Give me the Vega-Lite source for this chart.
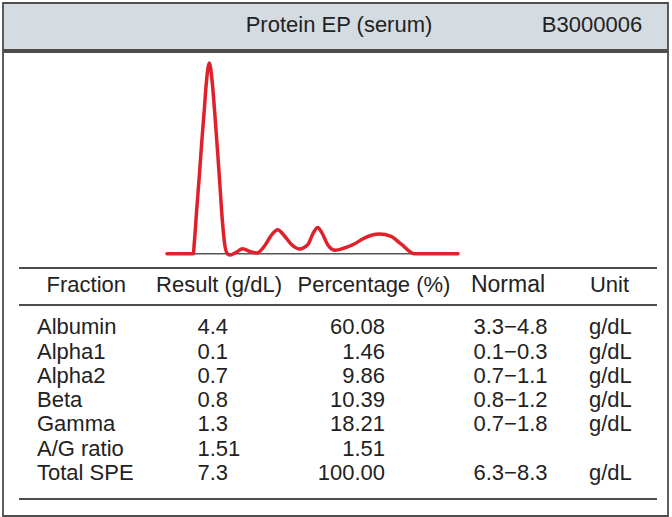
{
  "$schema": "https://vega.github.io/schema/vega-lite/v6.json",
  "background": "#ffffff",
  "padding": {"left": 2, "top": 2, "right": 0, "bottom": 0},
  "spacing": 0,
  "config": {
    "view": {"stroke": "#4d4d4d", "strokeWidth": 1.8},
    "text": {"font": "Liberation Sans", "fontSize": 22, "color": "#222222"}
  },
  "datasets": {
    "header": [
      {"part": "title", "label": "Protein EP (serum)"},
      {"part": "code", "label": "B3000006"}
    ],
    "columns": [
      {"key": "fraction", "column": "Fraction", "colno": 1},
      {"key": "result", "column": "Result (g/dL)", "colno": 2},
      {"key": "percentage", "column": "Percentage (%)", "colno": 3},
      {"key": "normal", "column": "Normal", "colno": 4},
      {"key": "unit", "column": "Unit", "colno": 5}
    ],
    "fractions": [
      {"fraction": "Albumin", "result": "4.4", "percentage": "60.08", "normal": "3.3−4.8", "unit": "g/dL"},
      {"fraction": "Alpha1", "result": "0.1", "percentage": "1.46", "normal": "0.1−0.3", "unit": "g/dL"},
      {"fraction": "Alpha2", "result": "0.7", "percentage": "9.86", "normal": "0.7−1.1", "unit": "g/dL"},
      {"fraction": "Beta", "result": "0.8", "percentage": "10.39", "normal": "0.8−1.2", "unit": "g/dL"},
      {"fraction": "Gamma", "result": "1.3", "percentage": "18.21", "normal": "0.7−1.8", "unit": "g/dL"},
      {"fraction": "A/G ratio", "result": "1.51", "percentage": "1.51"},
      {"fraction": "Total SPE", "result": "7.3", "percentage": "100.00", "normal": "6.3−8.3", "unit": "g/dL"}
    ],
    "curve": [
      {"mobility": 0, "intensity": 0},
      {"mobility": 9.04, "intensity": 0},
      {"mobility": 9.38, "intensity": 5.6},
      {"mobility": 10.21, "intensity": 23.1},
      {"mobility": 11.1, "intensity": 40.6},
      {"mobility": 11.92, "intensity": 58.1},
      {"mobility": 12.82, "intensity": 75.5},
      {"mobility": 13.51, "intensity": 89.5},
      {"mobility": 14.54, "intensity": 100},
      {"mobility": 15.57, "intensity": 89.5},
      {"mobility": 16.49, "intensity": 72.1},
      {"mobility": 17.42, "intensity": 52.8},
      {"mobility": 18.21, "intensity": 35.5},
      {"mobility": 19.0, "intensity": 17.8},
      {"mobility": 19.93, "intensity": 3.9},
      {"mobility": 20.86, "intensity": -0.2},
      {"mobility": 21.75, "intensity": -0.7},
      {"mobility": 23.71, "intensity": 0.7},
      {"mobility": 26.01, "intensity": 2.6},
      {"mobility": 28.28, "intensity": 1.3},
      {"mobility": 30.93, "intensity": 0.4},
      {"mobility": 33.44, "intensity": 3.9},
      {"mobility": 35.74, "intensity": 9.4},
      {"mobility": 38.04, "intensity": 12.6},
      {"mobility": 40.31, "intensity": 9.4},
      {"mobility": 42.61, "intensity": 5.1},
      {"mobility": 45.46, "intensity": 2.5},
      {"mobility": 48.35, "intensity": 4.7},
      {"mobility": 50.27, "intensity": 10.9},
      {"mobility": 51.79, "intensity": 13.8},
      {"mobility": 53.26, "intensity": 10.9},
      {"mobility": 55.22, "intensity": 4.7},
      {"mobility": 57.84, "intensity": 1.8},
      {"mobility": 60.93, "intensity": 3.0},
      {"mobility": 64.36, "intensity": 5.1},
      {"mobility": 67.8, "intensity": 8.2},
      {"mobility": 72.96, "intensity": 10.3},
      {"mobility": 76.98, "intensity": 9.1},
      {"mobility": 80.41, "intensity": 5.1},
      {"mobility": 84.98, "intensity": 0},
      {"mobility": 100, "intensity": 0}
    ]
  },
  "vconcat": [
    {
      "width": 665,
      "height": 47,
      "view": {"fill": "#d4dbe1"},
      "data": {"name": "header"},
      "mark": {"type": "text", "align": "center", "baseline": "middle", "color": "#222222", "fontSize": 22, "dy": -2},
      "encoding": {
        "x": {"field": "part", "type": "nominal", "axis": null, "scale": {"type": "point", "domain": ["title", "code"], "range": [336, 589], "padding": 0}},
        "text": {"field": "label"}
      }
    },
    {
      "width": 665,
      "height": 464,
      "resolve": {"scale": {"x": "independent", "y": "independent"}},
      "layer": [
        {
          "data": {"values": [{}]},
          "mark": {"type": "rule", "color": "#555555", "strokeWidth": 1.5},
          "encoding": {
            "x": {"datum": 0, "type": "quantitative", "axis": null, "scale": {"domain": [0, 100], "range": [164, 455], "nice": false, "zero": false}},
            "x2": {"datum": 85},
            "y": {"datum": 0, "type": "quantitative", "axis": null, "scale": {"domain": [0, 100], "range": [201.7, 11], "nice": false, "zero": false}}
          }
        },
        {
          "data": {"name": "curve"},
          "mark": {"type": "line", "color": "#e0202a", "strokeWidth": 3.5, "interpolate": "monotone", "strokeJoin": "round", "strokeCap": "round"},
          "encoding": {
            "x": {"field": "mobility", "type": "quantitative", "axis": null, "scale": {"domain": [0, 100], "range": [164, 455], "nice": false, "zero": false}},
            "y": {"field": "intensity", "type": "quantitative", "axis": null, "scale": {"domain": [0, 100], "range": [201.7, 11], "nice": false, "zero": false}}
          }
        },
        {
          "data": {"values": [{}]},
          "mark": {"type": "rule", "color": "#4d4d4d", "strokeWidth": 1.8},
          "encoding": {
            "x": {"datum": 0, "type": "quantitative", "axis": null, "scale": {"domain": [0, 1, 2, 3, 4, 5, 6], "range": [16, 83.3, 216, 371, 505, 606.5, 654], "nice": false, "zero": false}},
            "x2": {"datum": 6},
            "y": {"datum": "header", "type": "nominal", "axis": null, "bandPosition": 0, "scale": {"type": "band", "domain": ["header"], "range": [216, 253], "paddingInner": 0, "paddingOuter": 0}}
          }
        },
        {
          "data": {"values": [{}]},
          "mark": {"type": "rule", "color": "#4d4d4d", "strokeWidth": 1.8},
          "encoding": {
            "x": {"datum": 0, "type": "quantitative", "axis": null, "scale": {"domain": [0, 1, 2, 3, 4, 5, 6], "range": [16, 83.3, 216, 371, 505, 606.5, 654], "nice": false, "zero": false}},
            "x2": {"datum": 6},
            "y": {"datum": "header", "type": "nominal", "axis": null, "bandPosition": 1, "scale": {"type": "band", "domain": ["header"], "range": [216, 253], "paddingInner": 0, "paddingOuter": 0}}
          }
        },
        {
          "data": {"values": [{}]},
          "mark": {"type": "rule", "color": "#4d4d4d", "strokeWidth": 1.8},
          "encoding": {
            "x": {"datum": 0, "type": "quantitative", "axis": null, "scale": {"domain": [0, 1, 2, 3, 4, 5, 6], "range": [16, 83.3, 216, 371, 505, 606.5, 654], "nice": false, "zero": false}},
            "x2": {"datum": 6},
            "y": {"datum": "Total SPE", "type": "nominal", "axis": null, "bandPosition": 1.5, "scale": {"type": "band", "domain": ["Albumin", "Alpha1", "Alpha2", "Beta", "Gamma", "A/G ratio", "Total SPE"], "range": [253, 447], "paddingInner": 0, "paddingOuter": 0.5}}
          }
        },
        {
          "data": {"name": "columns"},
          "mark": {"type": "text", "align": "center", "baseline": "middle", "color": "#222222", "dy": -2},
          "encoding": {
            "x": {"field": "colno", "type": "quantitative", "axis": null, "scale": {"domain": [0, 1, 2, 3, 4, 5, 6], "range": [16, 83.3, 216, 371, 505, 606.5, 654], "nice": false, "zero": false}},
            "y": {"datum": "header", "type": "nominal", "axis": null, "bandPosition": 0.5, "scale": {"type": "band", "domain": ["header"], "range": [216, 253], "paddingInner": 0, "paddingOuter": 0}},
            "text": {"field": "column"},
            "size": {"condition": {"test": "datum.column === 'Normal'", "value": 23}, "value": 22}
          }
        },
        {
          "data": {"name": "fractions"},
          "transform": [
            {"fold": ["fraction", "result", "percentage", "normal", "unit"], "as": ["key", "value"]},
            {"lookup": "key", "from": {"data": {"name": "columns"}, "key": "key", "fields": ["colno"]}},
            {"filter": "datum.colno !== 3 && datum.value != null && datum.value !== ''"}
          ],
          "mark": {"type": "text", "align": "left", "baseline": "middle", "color": "#222222", "dy": -2},
          "encoding": {
            "x": {"field": "colno", "type": "quantitative", "axis": null, "scale": {"domain": [1, 2, 3, 4, 5], "range": [34, 194.5, 382, 470.5, 586], "nice": false, "zero": false}},
            "y": {"field": "fraction", "type": "nominal", "axis": null, "scale": {"type": "band", "domain": ["Albumin", "Alpha1", "Alpha2", "Beta", "Gamma", "A/G ratio", "Total SPE"], "range": [253, 447], "paddingInner": 0, "paddingOuter": 0.5}},
            "text": {"field": "value"}
          }
        },
        {
          "data": {"name": "fractions"},
          "transform": [
            {"fold": ["fraction", "result", "percentage", "normal", "unit"], "as": ["key", "value"]},
            {"lookup": "key", "from": {"data": {"name": "columns"}, "key": "key", "fields": ["colno"]}},
            {"filter": "datum.colno === 3 && datum.value != null && datum.value !== ''"}
          ],
          "mark": {"type": "text", "align": "right", "baseline": "middle", "color": "#222222", "dy": -2},
          "encoding": {
            "x": {"field": "colno", "type": "quantitative", "axis": null, "scale": {"domain": [1, 2, 3, 4, 5], "range": [34, 194.5, 382, 470.5, 586], "nice": false, "zero": false}},
            "y": {"field": "fraction", "type": "nominal", "axis": null, "scale": {"type": "band", "domain": ["Albumin", "Alpha1", "Alpha2", "Beta", "Gamma", "A/G ratio", "Total SPE"], "range": [253, 447], "paddingInner": 0, "paddingOuter": 0.5}},
            "text": {"field": "value"}
          }
        }
      ]
    }
  ]
}
